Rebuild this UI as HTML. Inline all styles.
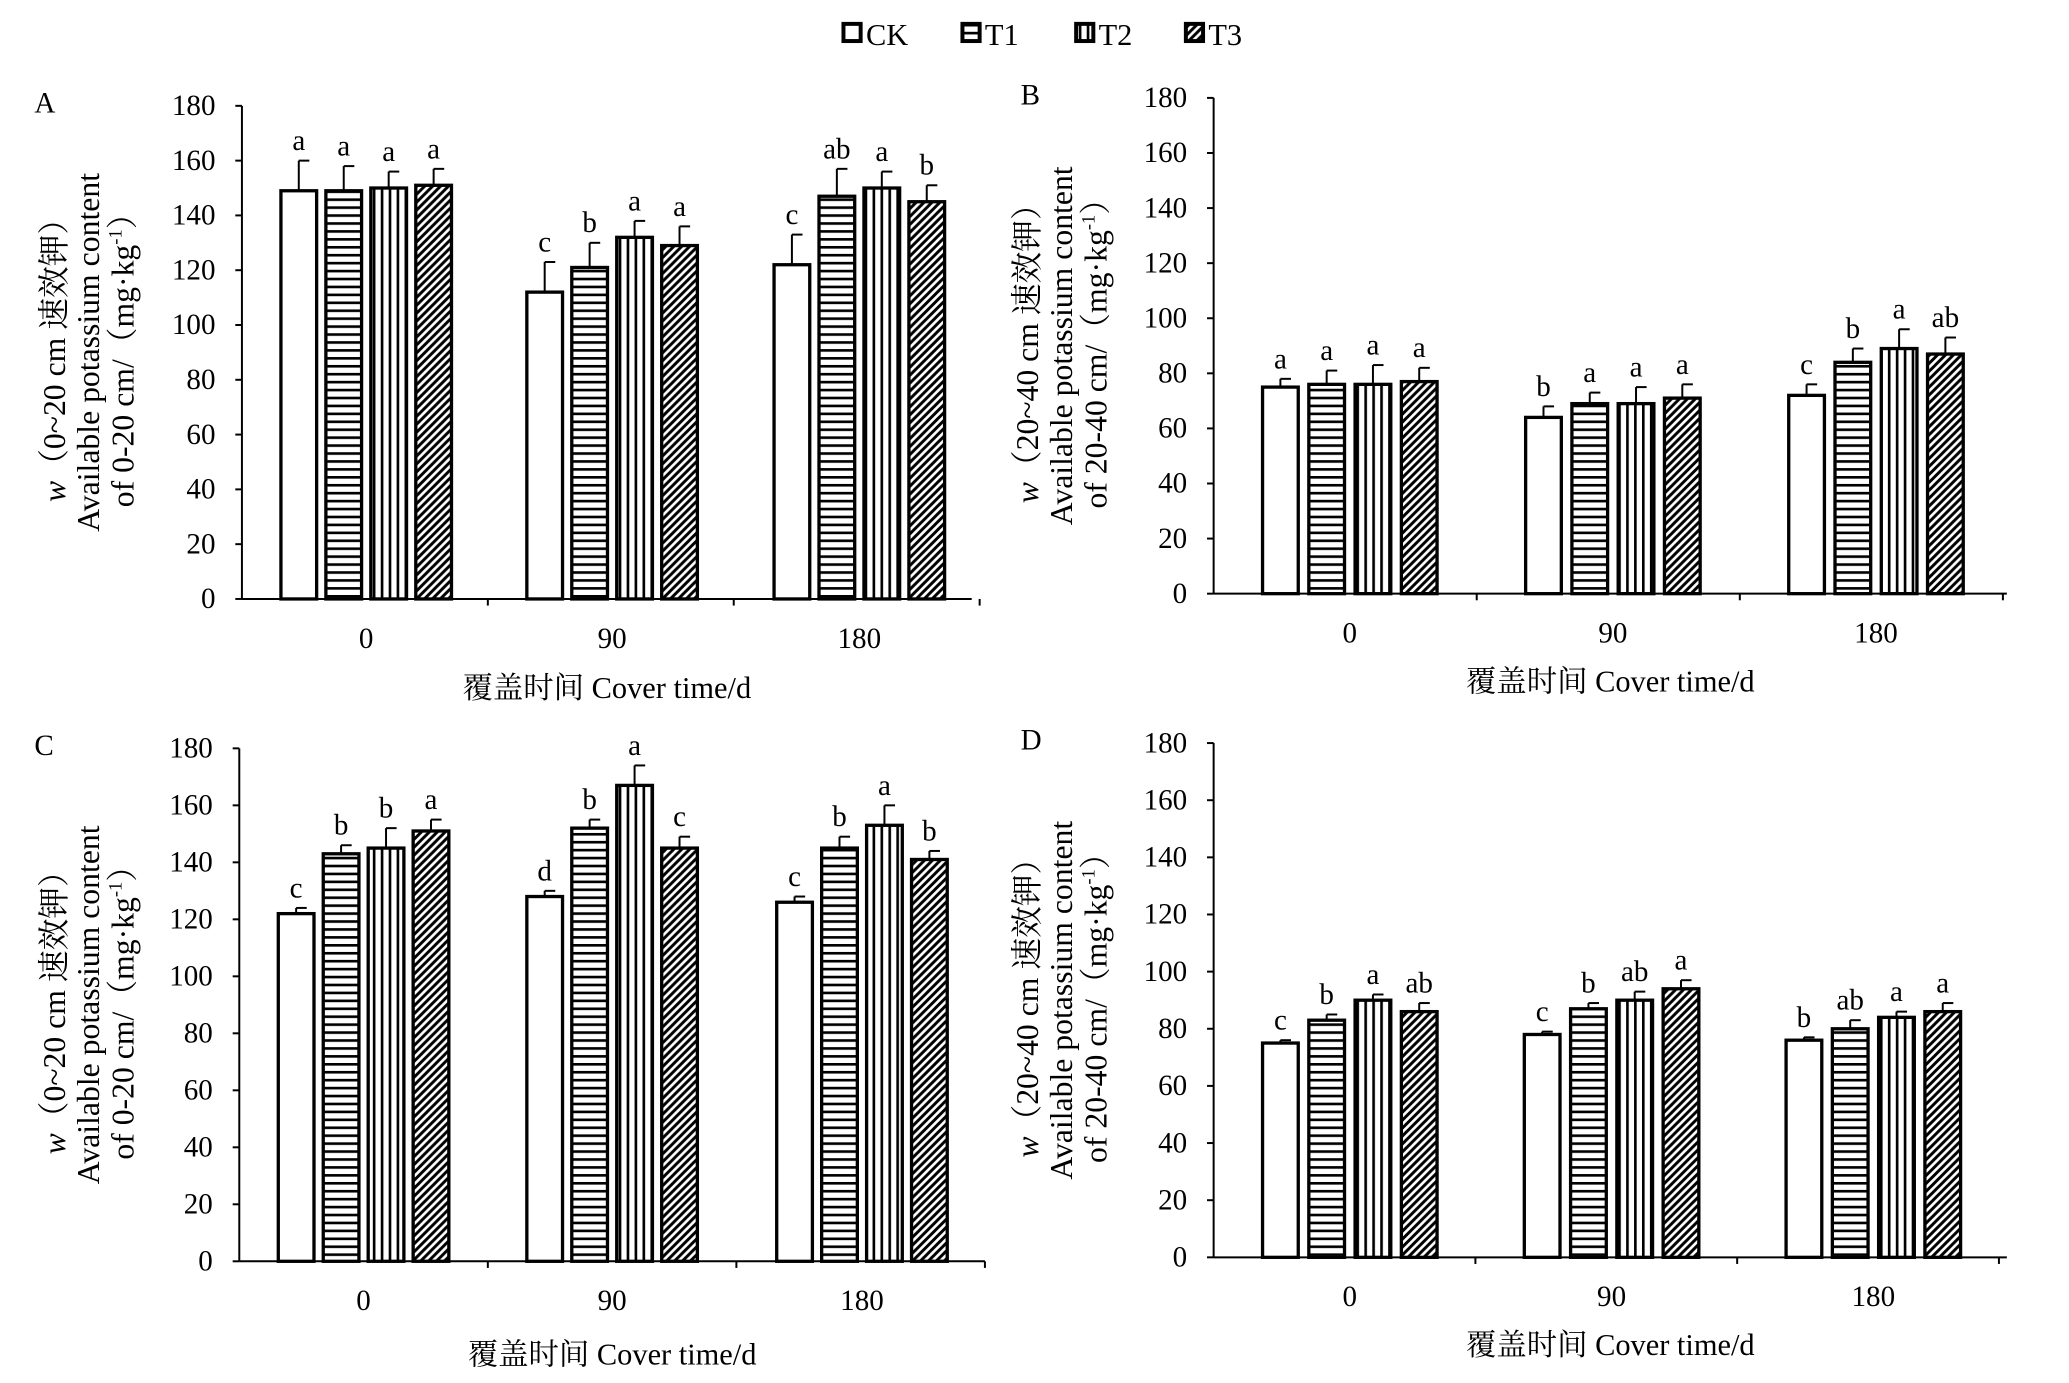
<!DOCTYPE html>
<html><head><meta charset="utf-8"><style>
html,body{margin:0;padding:0;background:#fff}
svg{display:block}
text{font-family:"Liberation Serif","Noto Serif CJK SC",serif;fill:#000}
</style></head><body>
<svg id="s" width="2069" height="1383" viewBox="0 0 1565 1046" xmlns="http://www.w3.org/2000/svg">
<defs>
<pattern id="h" width="6" height="6" patternUnits="userSpaceOnUse"><rect width="6" height="6" fill="#fff"/><rect y="0" width="6" height="2" fill="#000"/></pattern>
<pattern id="v" width="6" height="6" patternUnits="userSpaceOnUse"><rect width="6" height="6" fill="#fff"/><rect x="0" width="2" height="6" fill="#000"/></pattern>
<pattern id="d" width="6" height="6" patternUnits="userSpaceOnUse"><rect width="6" height="6" fill="#fff"/><path d="M-1,7 L7,-1 M-4,4 L4,-4 M2,10 L10,2" stroke="#000" stroke-width="2.2"/></pattern>
</defs>
<g id="g"></g>
</svg>
<script>
const g=document.getElementById('g');let h='';
const fills=['#fff','url(#h)','url(#v)','url(#d)'];
const leg=[['CK',638],['T1',728],['T2',814],['T3',897]];
leg.forEach((l,i)=>{h+=`<rect x="${l[1]}" y="18" width="13" height="13" fill="${fills[i]}" stroke="#000" stroke-width="3"/><text x="${l[1]+17}" y="34" font-size="23">${l[0]}</text>`;});
const P=[
 {L:'A',ax:183,x1:735,y0:453,y1:80,c:[277,463,650],pitch:34,lbl:[42,150],depth:'0~20',d2:'0-20',
  v:[[149,149,150,151],[112,121,132,129],[122,147,150,145]],t:[[160,158,156,157],[123,130,138,136],[133,157,156,151]],
  s:[['a','a','a','a'],['c','b','a','a'],['c','ab','a','b']],xt:521},
 {L:'B',ax:918,x1:1518,y0:449,y1:74,c:[1021,1220,1419],pitch:35,lbl:[778,150],depth:'20~40',d2:'20-40',
  v:[[75,76,76,77],[64,69,69,71],[72,84,89,87]],t:[[78,81,83,82],[68,73,75,76],[76,89,96,93]],
  s:[['a','a','a','a'],['b','a','a','a'],['c','b','a','ab']],xt:516},
 {L:'C',ax:181,x1:745,y0:954,y1:566,c:[275,463,652],pitch:34,lbl:[42,635],depth:'0~20',d2:'0-20',
  v:[[122,143,145,151],[128,152,167,145],[126,145,153,141]],t:[[124,146,152,155],[130,155,174,149],[128,149,160,144]],
  s:[['c','b','b','a'],['d','b','a','c'],['c','b','a','b']],xt:1025},
 {L:'D',ax:918,x1:1518,y0:951,y1:562,c:[1021,1219,1417],pitch:35,lbl:[778,635],depth:'20~40',d2:'20-40',
  v:[[75,83,90,86],[78,87,90,94],[76,80,84,86]],t:[[76,85,92,89],[79,89,93,97],[77,83,86,89]],
  s:[['c','b','a','ab'],['c','b','ab','a'],['b','ab','a','a']],xt:1018}
];
P.forEach(p=>{
 const Y=v=>p.y0-(p.y0-p.y1)*v/180;
 h+=`<text x="${p.L=='A'||p.L=='C'?26:772}" y="${p.y1+5}" font-size="22">${p.L}</text>`;
 for(let k=0;k<=9;k++){const y=Y(k*20);h+=`<line x1="${p.ax-5}" x2="${p.ax}" y1="${y}" y2="${y}" stroke="#000" stroke-width="1.5"/><text x="${p.ax-20}" y="${y+7}" font-size="22" text-anchor="end">${k*20}</text>`;}
 h+=`<line x1="${p.ax}" x2="${p.ax}" y1="${p.y1}" y2="${p.y0}" stroke="#000" stroke-width="1.5"/><line x1="${p.ax}" x2="${p.x1}" y1="${p.y0}" y2="${p.y0}" stroke="#000" stroke-width="1.5"/>`;
 const gw=(p.c[1]-p.c[0]);
 for(let j=1;j<=3;j++){const x=p.ax+gw*j;h+=`<line x1="${x}" x2="${x}" y1="${p.y0}" y2="${p.y0+5}" stroke="#000" stroke-width="1.5"/>`;}
 p.c.forEach((cx,gi)=>{
  h+=`<text x="${cx}" y="${p.y0+37}" font-size="22" text-anchor="middle">${[0,90,180][gi]}</text>`;
  for(let i=0;i<4;i++){
   const bx=cx+(i-1.5)*p.pitch, bw=27, y=Y(p.v[gi][i]), ty=Y(p.t[gi][i]);
   h+=`<line x1="${bx}" x2="${bx}" y1="${ty}" y2="${y}" stroke="#000" stroke-width="1.5"/><line x1="${bx}" x2="${bx+8}" y1="${ty}" y2="${ty}" stroke="#000" stroke-width="1.5"/>`;
   h+=`<rect x="${bx-bw/2}" y="${y}" width="${bw}" height="${p.y0-y}" fill="${fills[i]}" stroke="#000" stroke-width="2.5"/>`;
   h+=`<text x="${bx}" y="${ty-8}" font-size="22" text-anchor="middle">${p.s[gi][i]}</text>`;
  }
 });
 h+=`<text x="${(p.ax+p.x1)/2}" y="${p.xt+7}" font-size="23" text-anchor="middle">覆盖时间 Cover time/d</text>`;
 const cy=(p.y0+p.y1)/2, lx=p.lbl[0];
 h+=`<g transform="translate(${lx},${cy}) rotate(-90)" font-size="24"><text x="0" y="7" text-anchor="middle"><tspan font-style="italic">w</tspan>（${p.depth} cm 速效钾）</text><text x="0" y="33" text-anchor="middle">Available potassium content</text><text x="0" y="59" text-anchor="middle">of ${p.d2} cm/（mg·kg<tspan font-size="14" dy="-9">-1</tspan><tspan dy="9">）</tspan></text></g>`;
});
g.innerHTML=h;
</script>
</body></html>
